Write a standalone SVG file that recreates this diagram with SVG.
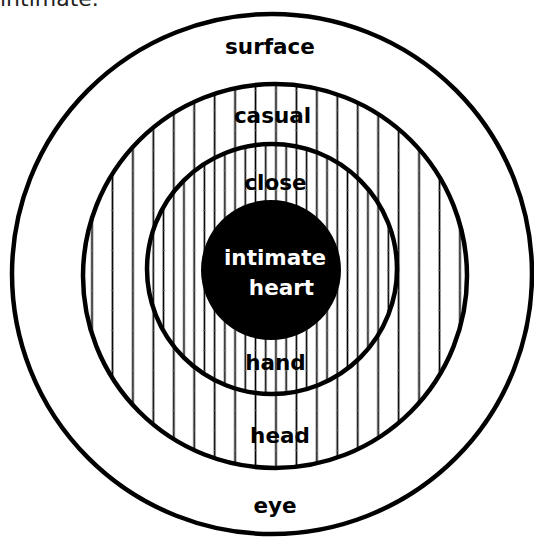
<svg xmlns="http://www.w3.org/2000/svg" width="534" height="540" viewBox="0 0 534 540">
  <style>
    .ring { fill: none; stroke: #000; stroke-width: 4.5; }
    .lbl { font-family: "DejaVu Sans", "Liberation Sans", sans-serif; font-weight: bold; font-size: 21.5px; text-anchor: middle; fill: #000; }
    .w { fill: #fff; }
  </style>
  <defs>
    <pattern id="p20" patternUnits="userSpaceOnUse" x="81.78" y="0" width="20.44" height="20">
      <rect x="9.4" y="0" width="1.7" height="20" fill="#000"/>
      <rect x="8.7" y="10" width="3" height="0.8" fill="#777"/>
    </pattern>
    <pattern id="p10" patternUnits="userSpaceOnUse" x="86.89" y="0" width="10.22" height="20">
      <rect x="4.3" y="0" width="1.6" height="20" fill="#000"/>
      <rect x="3.6" y="10" width="3" height="0.8" fill="#777"/>
    </pattern>
  </defs>
  <rect width="534" height="540" fill="#fff"/>
  <text x="0" y="6" font-family="'DejaVu Sans', sans-serif" font-size="22" fill="#222">intimate.</text>
  <g id="surface">
    <circle cx="272" cy="274" r="260" fill="#fff" class="ring"/>
    <text class="lbl" x="270" y="54">surface</text>
    <text class="lbl" x="275" y="513">eye</text>
  </g>
  <g id="casual">
    <circle cx="275" cy="276" r="192" fill="url(#p20)"/>
    <circle cx="275" cy="276" r="192" class="ring"/>
    <text class="lbl" x="272.5" y="123">casual</text>
    <text class="lbl" x="280" y="443">head</text>
  </g>
  <g id="close">
    <circle cx="272" cy="269" r="125" fill="#fff"/>
    <circle cx="272" cy="269" r="125" fill="url(#p10)"/>
    <circle cx="272" cy="269" r="125" class="ring"/>
    <text class="lbl" x="275.5" y="190">close</text>
    <text class="lbl" x="275.5" y="370">hand</text>
  </g>
  <g id="intimate-heart">
    <circle cx="271" cy="270" r="70" fill="#000"/>
    <text class="lbl w" x="275" y="265">intimate</text>
    <text class="lbl w" x="281.5" y="295">heart</text>
  </g>
  <g id="connectors"/>
</svg>
